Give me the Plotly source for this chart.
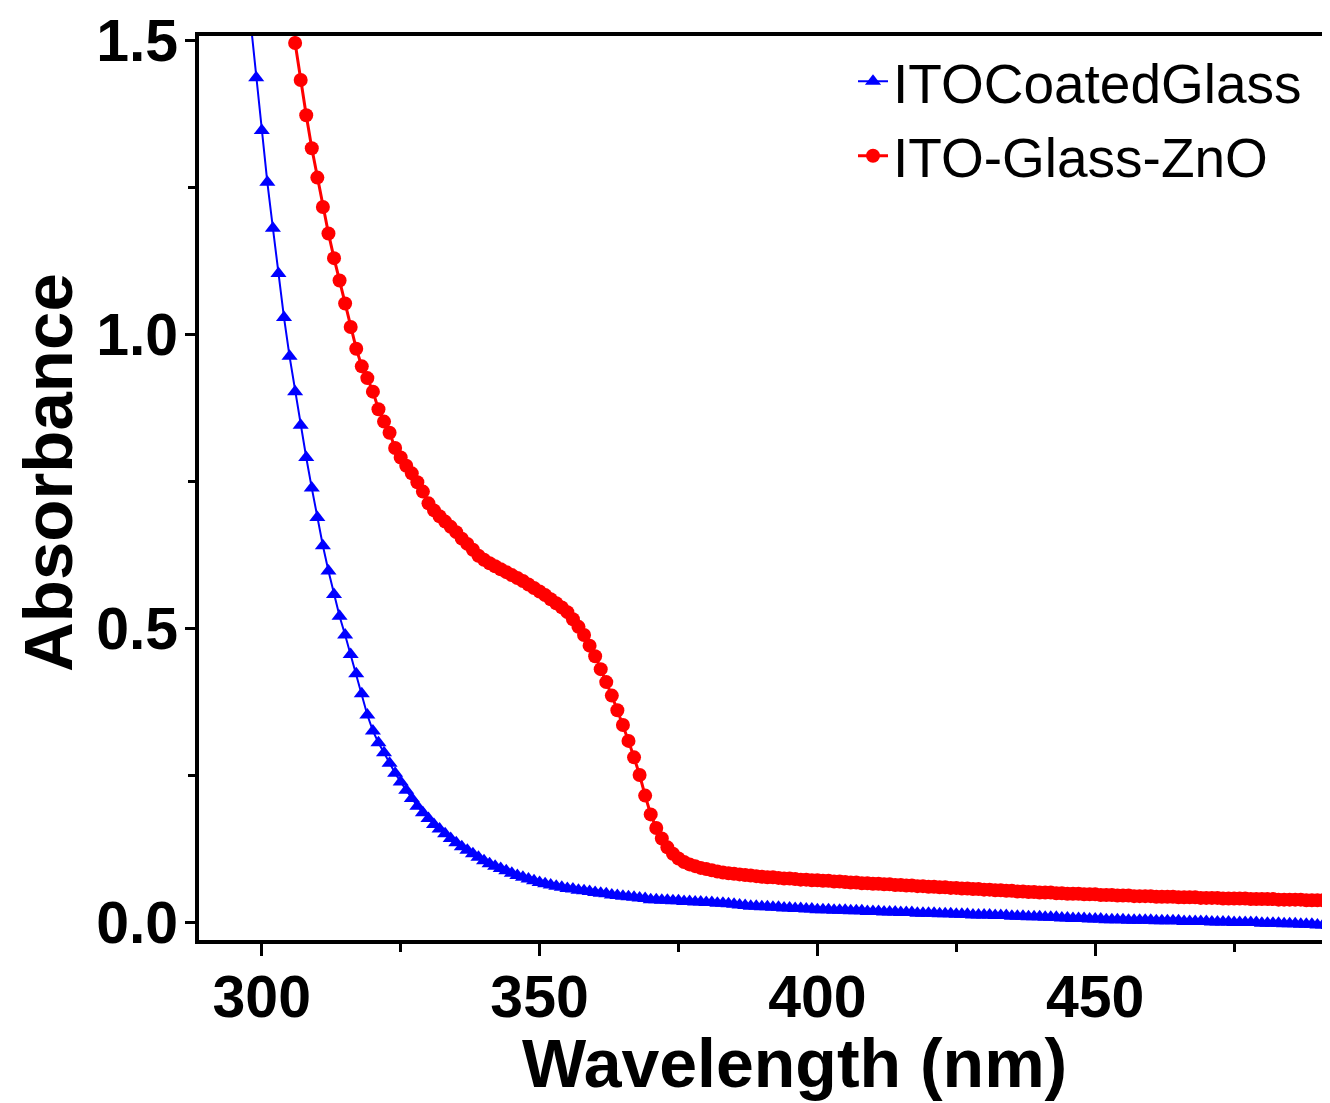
import plotly.graph_objects as go

# ---- data ----
blue_name = "ITOCoatedGlass"
red_name = "ITO-Glass-ZnO"

blue_wavelength = list(range(298, 493))
blue_absorbance = [
    1.530, 1.436, 1.346, 1.258, 1.180, 1.103, 1.028, 0.962, 0.902, 0.845,  # 298-307
    0.790, 0.738, 0.688, 0.640, 0.597, 0.557, 0.520, 0.488, 0.455, 0.422,  # 308-317
    0.388, 0.352, 0.325, 0.305, 0.288, 0.270, 0.253, 0.238, 0.224, 0.210,  # 318-327
    0.197, 0.186, 0.176, 0.166, 0.158, 0.150, 0.142, 0.135, 0.128, 0.122,  # 328-337
    0.116, 0.110, 0.104, 0.099, 0.095, 0.091, 0.087, 0.083, 0.079, 0.076,  # 338-347
    0.073, 0.070, 0.067, 0.065, 0.063, 0.061, 0.059, 0.057, 0.056, 0.054,  # 348-357
    0.053, 0.052, 0.050, 0.049, 0.048, 0.046, 0.045, 0.044, 0.043, 0.042,  # 358-367
    0.041, 0.040, 0.038,                                                   # 368-370
    0.038, 0.037, 0.037, 0.036, 0.036, 0.035, 0.035, 0.034, 0.034, 0.033,  # 371-380
    0.033, 0.032, 0.032, 0.031, 0.030, 0.029, 0.028, 0.027, 0.027, 0.026,  # 381-390
    0.026, 0.025, 0.025, 0.024, 0.024, 0.023, 0.023, 0.022, 0.022, 0.021,  # 391-400
    0.021, 0.021, 0.020, 0.020, 0.020, 0.019, 0.019, 0.019, 0.018, 0.018,  # 401-410
    0.018, 0.017, 0.017, 0.017, 0.016, 0.016, 0.016, 0.015, 0.015, 0.015,  # 411-420
    0.015, 0.014, 0.014, 0.014, 0.013, 0.013, 0.013, 0.012, 0.012, 0.012,  # 421-430
    0.012, 0.011, 0.011, 0.011, 0.010, 0.010, 0.010, 0.009, 0.009, 0.009,  # 431-440
    0.008, 0.008, 0.008, 0.007, 0.007, 0.006, 0.006, 0.006, 0.005, 0.005,  # 441-450
    0.005, 0.004, 0.004, 0.004, 0.004, 0.003, 0.003, 0.003, 0.003, 0.003,  # 451-460
    0.002, 0.002, 0.002, 0.002, 0.002, 0.001, 0.001, 0.001, 0.001, 0.001,  # 461-470
    0.000, 0.000, 0.000, 0.000, -0.001, -0.001, -0.001, -0.001, -0.001, -0.002,  # 471-480
    -0.002, -0.002, -0.002, -0.003, -0.003, -0.003, -0.004, -0.004, -0.004, -0.005,  # 481-490
    -0.005, -0.006,                                                        # 491-492
]

red_wavelength = list(range(306, 493))
red_absorbance = [
    1.495, 1.432, 1.372, 1.316, 1.266, 1.216, 1.171, 1.129, 1.091, 1.052,  # 306-315
    1.012, 0.975, 0.945, 0.925, 0.902, 0.872, 0.851, 0.832, 0.806, 0.790,  # 316-325
    0.776, 0.763, 0.748, 0.732, 0.712, 0.700, 0.690, 0.681, 0.672, 0.663,  # 326-335
    0.652, 0.643, 0.633, 0.623, 0.616, 0.610, 0.605, 0.600, 0.595, 0.590,  # 336-345
    0.585, 0.580, 0.574, 0.568, 0.562, 0.556, 0.549, 0.542, 0.535, 0.527,  # 346-355
    0.515, 0.502, 0.488, 0.470, 0.452, 0.430, 0.408, 0.385, 0.360, 0.335,  # 356-365
    0.308, 0.280, 0.250, 0.215, 0.183, 0.160, 0.142, 0.127, 0.116, 0.108,  # 366-375
    0.102, 0.098, 0.095, 0.092, 0.090,                                     # 376-380
    0.088, 0.086, 0.084, 0.083, 0.082, 0.081, 0.080, 0.079, 0.078, 0.077,  # 381-390
    0.076, 0.076, 0.075, 0.074, 0.074, 0.073, 0.072, 0.072, 0.071, 0.071,  # 391-400
    0.070, 0.070, 0.069, 0.069, 0.068, 0.067, 0.067, 0.066, 0.066, 0.065,  # 401-410
    0.065, 0.064, 0.064, 0.063, 0.063, 0.062, 0.062, 0.061, 0.061, 0.060,  # 411-420
    0.060, 0.059, 0.059, 0.058, 0.058, 0.057, 0.057, 0.056, 0.056, 0.055,  # 421-430
    0.055, 0.054, 0.054, 0.053, 0.053, 0.052, 0.052, 0.051, 0.051, 0.050,  # 431-440
    0.050, 0.050, 0.049, 0.049, 0.048, 0.048, 0.048, 0.047, 0.047, 0.047,  # 441-450
    0.046, 0.046, 0.046, 0.045, 0.045, 0.045, 0.044, 0.044, 0.044, 0.044,  # 451-460
    0.043, 0.043, 0.043, 0.043, 0.042, 0.042, 0.042, 0.042, 0.041, 0.041,  # 461-470
    0.041, 0.041, 0.040, 0.040, 0.040, 0.040, 0.040, 0.039, 0.039, 0.039,  # 471-480
    0.039, 0.039, 0.038, 0.038, 0.038, 0.038, 0.038, 0.037, 0.037, 0.037,  # 481-490
    0.037, 0.036,                                                          # 491-492
]

x_ticks = [300, 350, 400, 450]
y_ticks = [0.0, 0.5, 1.0, 1.5]
y_tick_text = ["0.0", "0.5", "1.0", "1.5"]

x_title = "Wavelength (nm)"
y_title = "Absorbance"

FONT = "Liberation Sans, Arial, sans-serif"

# page body adds an 8 px offset; margins compensate so the plot lands where the reference has it
L, T, R, B = 191, 28, 10, 171
W, H = 1330, 1103
PW, PH = W - L - R, H - T - B

fig = go.Figure()
fig.add_trace(go.Scatter(
    x=blue_wavelength, y=blue_absorbance, name=blue_name, mode="lines+markers",
    line=dict(color="#0000FF", width=2),
    marker=dict(symbol="triangle-up", size=14, color="#0000FF"),
))
fig.add_trace(go.Scatter(
    x=red_wavelength, y=red_absorbance, name=red_name, mode="lines+markers",
    line=dict(color="#FF0000", width=3),
    marker=dict(symbol="circle", size=14, color="#FF0000"),
))

axis_common = dict(
    showgrid=False, zeroline=False, showline=True, linecolor="black",
    linewidth=4, mirror=True, ticks="outside", tickcolor="black",
    tickwidth=3, tickfont=dict(family=FONT, size=59, color="black", weight="bold"),
    automargin=False, ticklabeloverflow="allow",
)

fig.update_xaxes(
    range=[288.7, 491.9], tickvals=x_ticks, ticklen=12, ticklabelstandoff=-10,
    minor=dict(dtick=25, tick0=300, ticks="outside", ticklen=8, tickwidth=3, tickcolor="black"),
    **axis_common,
)
fig.update_yaxes(
    range=[-0.0306, 1.5068], tickvals=y_ticks, ticktext=y_tick_text, ticklen=10,
    ticklabelstandoff=-5,
    minor=dict(dtick=0.25, tick0=0, ticks="outside", ticklen=7, tickwidth=3, tickcolor="black"),
    **axis_common,
)

fig.add_annotation(
    text=x_title, xref="paper", yref="paper",
    x=(786 - L) / PW, y=-(1063 - 8 - (H - B)) / PH,
    showarrow=False, xanchor="center", yanchor="middle",
    font=dict(family=FONT, size=68, color="black", weight="bold"),
)
fig.add_annotation(
    text=y_title, xref="paper", yref="paper",
    x=-(L - 40) / PW, y=1 - (465 - T) / PH,
    showarrow=False, xanchor="center", yanchor="middle", textangle=-90,
    font=dict(family=FONT, size=69, color="black", weight="bold"),
)

fig.update_layout(
    width=W, height=H,
    margin=dict(l=L, r=R, t=T, b=B, autoexpand=False),
    paper_bgcolor="white", plot_bgcolor="white",
    showlegend=True,
    legend=dict(
        x=(845 - L) / PW, y=1 - (31 - T) / PH, xanchor="left", yanchor="top",
        bgcolor="rgba(0,0,0,0)", borderwidth=0,
        font=dict(family=FONT, size=55, color="black"),
        tracegroupgap=0,
    ),
)

fig.write_html("out.html")
